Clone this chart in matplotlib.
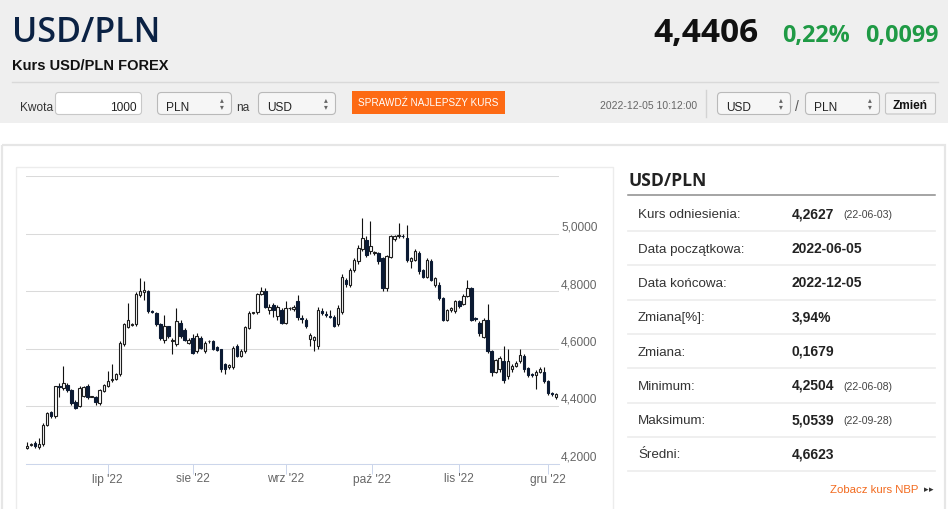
import matplotlib
matplotlib.use("Agg")
import matplotlib.pyplot as plt
from matplotlib.patches import Rectangle, FancyBboxPatch
import pandas as pd

plt.rcParams['font.family'] = ['Liberation Sans', 'DejaVu Sans']

# ---------------- data ----------------
dates = pd.bdate_range("2022-06-03", "2022-12-05")

open_ = [4.255, 4.265, 4.270, 4.258, 4.268, 4.335, 4.378, 4.364, 4.468, 4.462,
         4.474, 4.455, 4.415, 4.400, 4.435, 4.468, 4.432, 4.432, 4.410, 4.452,
         4.468, 4.490, 4.495, 4.510, 4.615, 4.676, 4.683, 4.684, 4.785, 4.795,
         4.800, 4.730, 4.723, 4.684, 4.631, 4.677, 4.625, 4.614, 4.689, 4.665,
         4.620, 4.637, 4.590, 4.637, 4.591, 4.625, 4.625, 4.605, 4.597, 4.545,
         4.535, 4.535, 4.608, 4.575, 4.590, 4.672, 4.724, 4.726, 4.790, 4.800,
         4.733, 4.750, 4.712, 4.735, 4.690, 4.740, 4.736, 4.765, 4.705, 4.700,
         4.632, 4.630, 4.608, 4.730, 4.720, 4.712, 4.710, 4.686, 4.728, 4.838,
         4.820, 4.874, 4.905, 4.945, 4.978, 4.938, 4.932, 4.932, 4.915, 4.810,
         4.920, 4.980, 4.990, 4.992, 4.985, 4.905, 4.909, 4.932, 4.872, 4.850,
         4.903, 4.820, 4.820, 4.774, 4.700, 4.733, 4.730, 4.765, 4.754, 4.783,
         4.810, 4.705, 4.690, 4.640, 4.700, 4.590, 4.520, 4.527, 4.556, 4.503,
         4.527, 4.538, 4.556, 4.573, 4.532, 4.510, 4.508, 4.520, 4.520, 4.486,
         4.445, 4.432]
high_ = [4.275, 4.270, 4.280, 4.290, 4.340, 4.380, 4.383, 4.470, 4.480, 4.538,
         4.480, 4.460, 4.420, 4.470, 4.470, 4.475, 4.436, 4.435, 4.460, 4.478,
         4.523, 4.545, 4.515, 4.625, 4.690, 4.760, 4.690, 4.795, 4.845, 4.835,
         4.805, 4.735, 4.728, 4.690, 4.717, 4.680, 4.635, 4.740, 4.700, 4.670,
         4.635, 4.650, 4.655, 4.645, 4.625, 4.630, 4.628, 4.610, 4.600, 4.550,
         4.545, 4.610, 4.615, 4.600, 4.680, 4.730, 4.728, 4.792, 4.815, 4.810,
         4.755, 4.760, 4.750, 4.740, 4.765, 4.745, 4.750, 4.785, 4.715, 4.705,
         4.655, 4.645, 4.745, 4.740, 4.730, 4.735, 4.715, 4.750, 4.860, 4.845,
         4.880, 4.915, 4.960, 5.054, 4.990, 5.045, 4.940, 4.935, 4.920, 4.925,
         4.995, 4.995, 5.037, 5.000, 5.030, 4.920, 4.945, 4.940, 4.875, 4.915,
         4.910, 4.850, 4.830, 4.778, 4.738, 4.745, 4.770, 4.770, 4.790, 4.840,
         4.815, 4.710, 4.695, 4.705, 4.755, 4.595, 4.565, 4.575, 4.608, 4.600,
         4.545, 4.555, 4.600, 4.580, 4.535, 4.515, 4.525, 4.535, 4.535, 4.490,
         4.450, 4.445]
low_ = [4.252, 4.260, 4.255, 4.250, 4.260, 4.330, 4.360, 4.360, 4.430, 4.457,
        4.450, 4.405, 4.388, 4.397, 4.430, 4.425, 4.430, 4.405, 4.405, 4.450,
        4.465, 4.485, 4.490, 4.505, 4.610, 4.672, 4.680, 4.680, 4.780, 4.770,
        4.725, 4.725, 4.680, 4.630, 4.620, 4.638, 4.580, 4.610, 4.638, 4.625,
        4.615, 4.580, 4.585, 4.598, 4.585, 4.620, 4.595, 4.590, 4.520, 4.510,
        4.530, 4.530, 4.570, 4.572, 4.585, 4.668, 4.720, 4.720, 4.785, 4.740,
        4.720, 4.710, 4.700, 4.685, 4.685, 4.735, 4.730, 4.700, 4.690, 4.670,
        4.610, 4.590, 4.600, 4.715, 4.710, 4.705, 4.675, 4.680, 4.720, 4.815,
        4.815, 4.865, 4.895, 4.940, 4.920, 4.930, 4.925, 4.895, 4.800, 4.800,
        4.915, 4.975, 4.985, 4.985, 4.900, 4.880, 4.905, 4.860, 4.845, 4.845,
        4.835, 4.815, 4.770, 4.695, 4.695, 4.728, 4.725, 4.740, 4.750, 4.780,
        4.695, 4.695, 4.645, 4.635, 4.585, 4.505, 4.515, 4.520, 4.480, 4.495,
        4.520, 4.535, 4.550, 4.520, 4.500, 4.500, 4.460, 4.515, 4.480, 4.440,
        4.436, 4.425]
close_ = [4.262, 4.266, 4.262, 4.268, 4.335, 4.375, 4.364, 4.468, 4.466, 4.480,
          4.455, 4.410, 4.393, 4.462, 4.465, 4.430, 4.434, 4.413, 4.455, 4.474,
          4.486, 4.495, 4.510, 4.620, 4.685, 4.700, 4.684, 4.790, 4.800, 4.805,
          4.730, 4.728, 4.684, 4.637, 4.677, 4.643, 4.630, 4.694, 4.643, 4.631,
          4.630, 4.585, 4.643, 4.602, 4.620, 4.626, 4.597, 4.595, 4.528, 4.528,
          4.542, 4.602, 4.575, 4.590, 4.676, 4.722, 4.725, 4.788, 4.800, 4.746,
          4.745, 4.733, 4.745, 4.690, 4.740, 4.741, 4.745, 4.708, 4.703, 4.677,
          4.648, 4.640, 4.733, 4.722, 4.718, 4.710, 4.680, 4.740, 4.850, 4.826,
          4.874, 4.909, 4.950, 4.985, 4.926, 4.955, 4.933, 4.903, 4.810, 4.920,
          4.990, 4.990, 4.996, 4.990, 4.909, 4.915, 4.938, 4.868, 4.850, 4.909,
          4.840, 4.845, 4.774, 4.698, 4.733, 4.740, 4.765, 4.748, 4.783, 4.812,
          4.700, 4.702, 4.655, 4.700, 4.590, 4.520, 4.561, 4.567, 4.492, 4.556,
          4.538, 4.550, 4.579, 4.527, 4.509, 4.508, 4.520, 4.530, 4.486, 4.445,
          4.442, 4.440]

month_starts = ["2022-07-01", "2022-08-01", "2022-09-01", "2022-10-01", "2022-11-01", "2022-12-01"]
month_labels = ["lip '22", "sie '22", "wrz '22", "paź '22", "lis '22", "gru '22"]
y_ticks = [4.2, 4.4, 4.6, 4.8, 5.0, 5.2]
y_labels = ["4,2000", "4,4000", "4,6000", "4,8000", "5,0000", ""]

pair = "USD/PLN"
last_rate = "4,4406"
change_pct = "0,22%"
change_abs = "0,0099"
subtitle = "Kurs USD/PLN FOREX"
timestamp = "2022-12-05 10:12:00"

stat_labels = ["Kurs odniesienia:", "Data początkowa:", "Data końcowa:", "Zmiana[%]:",
               "Zmiana:", "Minimum:", "Maksimum:", "Średni:"]
stat_values = ["4,2627", "2022-06-05", "2022-12-05", "3,94%", "0,1679", "4,2504", "5,0539", "4,6623"]
stat_dates = ["(22-06-03)", "", "", "", "", "(22-06-08)", "(22-09-28)", ""]

# ---------------- figure ----------------
W, H = 948, 509
fig = plt.figure(figsize=(W / 100, H / 100), dpi=100)
fig.patch.set_facecolor('white')
bg = fig.add_axes([0, 0, 1, 1])
bg.set_xlim(0, W)
bg.set_ylim(H, 0)
bg.axis('off')

OPEN = ['Open Sans', 'DejaVu Sans']
SANS = ['Liberation Sans', 'DejaVu Sans']

def T(x, y, s, size, color='#333333', weight='normal', ha='left', va='baseline', family=SANS):
    bg.text(x, y, s, fontsize=size, color=color, fontweight=weight, ha=ha, va=va, family=family)

def box(x, y, w, h, face, edge, r=3, lw=0.8):
    bg.add_patch(FancyBboxPatch((x, y), w, h, boxstyle=f"round,pad=0,rounding_size={r}",
                                facecolor=face, edgecolor=edge, lw=lw))

# header background
bg.add_patch(Rectangle((0, 0), W, 123, facecolor='#efefef', edgecolor='none'))
T(12, 41.7, pair, 24.5, color='#0b2244', weight='semibold', family=OPEN)
T(653, 41.7, last_rate, 24, color='#111111', weight='bold', family=OPEN)
T(782, 41.7, change_pct, 16.8, color='#1f9a45', weight='bold', family=OPEN)
T(865, 41.7, change_abs, 16.8, color='#1f9a45', weight='bold', family=OPEN)
T(12, 70, subtitle, 10.5, color='#111111', weight='bold')
bg.plot([12, 938], [82, 82], color='#d9d9d9', lw=1)

# controls row
T(20, 110.5, "Kwota", 8.6, color='#333333')
box(55.5, 92.5, 86, 22, 'white', '#c8c8c8', r=3)
T(137, 110.5, "1000", 8.6, color='#222222', ha='right')

def select(x, w, label):
    box(x, 92.5, w, 22, '#f6f6f6', '#b9b9b9', r=4)
    T(x + 9, 110.5, label, 8.6, color='#222222')
    T(x + w - 10, 102, "▴", 5.5, color='#666666', ha='center', family=['DejaVu Sans'])
    T(x + w - 10, 109.5, "▾", 5.5, color='#666666', ha='center', family=['DejaVu Sans'])

select(157.5, 74, "PLN")
T(236, 110.5, "na", 8.6, color='#333333')
select(258.5, 77, "USD")
bg.add_patch(Rectangle((352, 91), 153, 23, facecolor='#fd6a14', edgecolor='none'))
T(428.5, 103, "SPRAWDŹ NAJLEPSZY KURS", 7.2, color='white', ha='center', va='center')
T(697, 108.5, timestamp, 7.5, color='#666666', ha='right')
bg.plot([706, 706], [90, 117], color='#d3d3d3', lw=1)
select(717.5, 73, "USD")
T(797, 110.5, "/", 10, color='#555555', ha='center')
select(805.5, 74, "PLN")
box(885.5, 93, 50, 21, '#f3f3f3', '#c4c4c4', r=2)
T(910.5, 108.5, "Zmień", 8.6, color='#111111', weight='bold', ha='center')

# lower frames
bg.add_patch(Rectangle((2.5, 145), 942.5, 420, facecolor='none', edgecolor='#e6e6e6', lw=1.6))
bg.add_patch(Rectangle((16.5, 166.5), 596.5, 420, facecolor='none', edgecolor='#ececec', lw=1))

# right stats panel
T(629, 185.5, pair, 12.6, color='#222222', weight='bold', family=OPEN)
bg.plot([628, 935], [195, 195], color='#8c8c8c', lw=1.1)
for k, (lab, val, dt) in enumerate(zip(stat_labels, stat_values, stat_dates)):
    yb = 218.3 + 34.3 * k
    T(638, yb, lab, 9.6, color='#333333')
    T(792, yb, val, 10, color='#222222', weight='bold')
    if dt:
        T(843, yb, dt, 7.6, color='#444444')
    ys = 231 + 34.3 * k
    bg.plot([628, 935], [ys, ys], color='#eeeeee', lw=1.3)
T(918, 492.7, "Zobacz kurs NBP", 8.2, color='#f26a1e', ha='right')
T(926, 492, "▸", 6.5, color='#333333', ha='center', family=['DejaVu Sans'])
T(931, 492, "▸", 6.5, color='#333333', ha='center', family=['DejaVu Sans'])

# ---------------- candlestick chart ----------------
n = len(dates)
assert n == len(open_) == len(high_) == len(low_) == len(close_)
px_per = 4.04
ax_l, ax_r = 26.0, 559.0
y_bot, y_top = 463.5, 176.0
ax = fig.add_axes([ax_l / W, (H - y_bot) / H, (ax_r - ax_l) / W, (y_bot - y_top) / H])
ax.set_facecolor('none')
x0 = -(27.0 - ax_l) / px_per
ax.set_xlim(x0, x0 + (ax_r - ax_l) / px_per)
ax.set_ylim(4.2, 5.2)

xs = list(range(n))
up = [c >= o for o, c in zip(open_, close_)]
ax.vlines(xs, low_, high_, color='#111111', lw=0.8, zorder=2)
bottoms = [min(o, c) for o, c in zip(open_, close_)]
heights = [max(abs(c - o), 0.002) for o, c in zip(open_, close_)]
faces = ['white' if u else '#0b1a33' for u in up]
edges = ['#1e1e1e' if u else '#0b1a33' for u in up]
ax.bar(xs, heights, bottom=bottoms, width=0.62, color=faces, edgecolor=edges, lw=0.8, zorder=3)

# month ticks (ordinal axis: position of first trading day of month, half step for weekends)
tick_pos = []
for m in month_starts:
    d = pd.Timestamp(m)
    idx = dates.searchsorted(d)
    tick_pos.append(idx if dates[idx] == d else idx - 0.5)
ax.set_xticks(tick_pos)
ax.set_xticklabels(month_labels)
ax.tick_params(axis='x', length=7.2, width=0.72, color='#ccd6eb', pad=0,
               labelsize=8.6, labelcolor='#666666')

ax.yaxis.tick_right()
ax.set_yticks(y_ticks)
ax.set_yticklabels(y_labels)
ax.tick_params(axis='y', length=0, pad=1.5, labelsize=8.6, labelcolor='#666666')
for lab in ax.get_yticklabels():
    lab.set_va('bottom')
ax.yaxis.grid(True, color='#dadada', lw=0.75)
ax.set_axisbelow(True)
for s in ['top', 'left', 'right']:
    ax.spines[s].set_visible(False)
ax.spines['bottom'].set_color('#ccd6eb')
ax.spines['bottom'].set_linewidth(0.75)

fig.savefig("out.png", dpi=100)
